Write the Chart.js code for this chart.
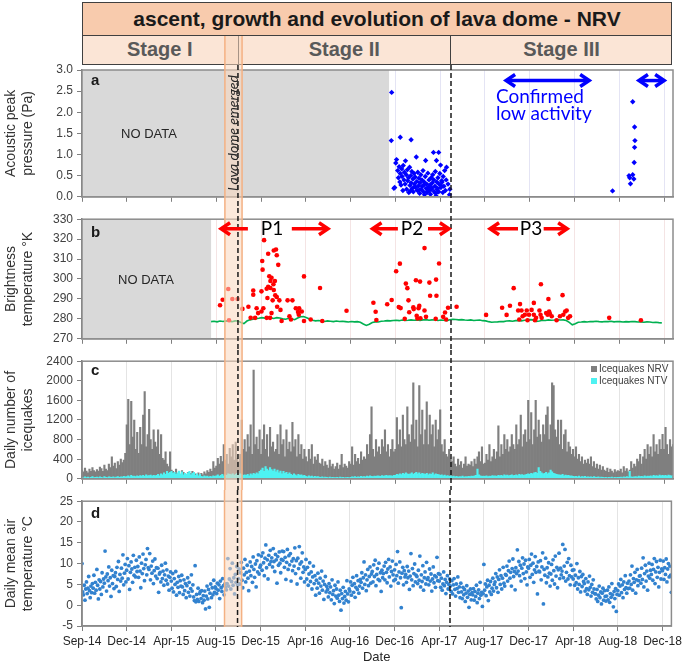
<!DOCTYPE html>
<html>
<head>
<meta charset="utf-8">
<script src="https://cdn.jsdelivr.net/npm/chart.js@4.4.1/dist/chart.umd.min.js"></script>
<style>
  body { margin:0; width:685px; height:662px; position:relative; overflow:hidden; background:#fff;
         font-family:"Liberation Sans", Arial, sans-serif; }
  #title { position:absolute; left:82px; top:2px; width:590px; height:34px; box-sizing:border-box;
           border:1.5px solid #404040; background:#f8cbad; font-weight:bold; font-size:21px;
           color:#1a1a1a; text-align:center; line-height:31px; }
  #stages { position:absolute; left:82px; top:35px; width:590px; height:30px; box-sizing:border-box;
            border:1.5px solid #404040; background:#fbe5d6; }
  .stage { position:absolute; top:35px; height:30px; box-sizing:border-box; font-weight:bold;
           font-size:20px; color:#595959; text-align:center; line-height:29px; }
  .panel { position:absolute; left:0; }
  .note { position:absolute; white-space:nowrap; }
  .nodata { font-size:13px; color:#262626; transform:translate(-50%,-50%); }
  .letter { font-weight:bold; font-size:15px; line-height:15px; color:#1a1a1a; }
  .plab { font-family:Lato, "Open Sans", sans-serif; font-size:19px; color:#000; transform:translate(-50%,-50%); }
  .sw { display:inline-block; width:6px; height:6px; margin-right:2px; vertical-align:0; }
</style>
</head>
<body>
<div id="title">ascent, growth and evolution of lava dome - NRV</div>
<div id="stages"></div>
<div class="stage" id="st0">Stage I</div>
<div class="stage" id="st1">Stage II</div>
<div class="stage" id="st2">Stage III</div>

<canvas class="panel" id="pa" width="685" height="172" style="top:36px"></canvas>
<canvas class="panel" id="pb" width="685" height="142" style="top:208px"></canvas>
<canvas class="panel" id="pc" width="685" height="140" style="top:350px"></canvas>
<canvas class="panel" id="pd" width="685" height="178" style="top:490px"></canvas>

<div class="note letter" style="left:91px;top:72px">a</div>
<div class="note letter" style="left:91px;top:224px">b</div>
<div class="note letter" style="left:91px;top:362px">c</div>
<div class="note letter" style="left:91px;top:505px">d</div>
<div class="note nodata" style="left:149px;top:133px">NO DATA</div>
<div class="note nodata" style="left:146px;top:279px">NO DATA</div>
<div class="note" style="left:232px;top:133px;transform:translate(-50%,-50%) rotate(-90deg);font-family:Lato,'Open Sans',sans-serif;font-style:italic;font-size:14px;color:#262626">Lava dome emerged</div>
<div class="note" style="left:496px;top:87px;font-family:Lato,'Open Sans',sans-serif;font-size:19px;line-height:17px;color:#0000ff">Confirmed<br>low activity</div>
<div class="note plab" style="left:272px;top:227px">P1</div>
<div class="note plab" style="left:412px;top:227px">P2</div>
<div class="note plab" style="left:531px;top:227px">P3</div>
<div class="note" style="left:591px;top:363px;font-size:10px;line-height:12px;color:#404040">
  <div><span class="sw" style="background:#7f7f7f"></span>Icequakes NRV</div>
  <div><span class="sw" style="background:#4ef2f2"></span>Icequakes NTV</div>
</div>

<script>
// x axis: days since 1 Sep 2014, Excel-style ticks every 120 days
const X_MIN = 0, X_MAX = 1584;
const xTickDays = [0, 120, 240, 360, 480, 600, 720, 840, 960, 1080, 1200, 1320, 1440, 1560];
const xTickLabels = ['Sep-14', 'Dec-14', 'Apr-15', 'Aug-15', 'Dec-15', 'Apr-16', 'Aug-16',
  'Dec-16', 'Apr-17', 'Aug-17', 'Dec-17', 'Apr-18', 'Aug-18', 'Dec-18'];
const stageDays = [418, 989];   // lava dome emerged / start of stage III (dashed lines)
const bandDays = [383, 429];    // orange band
const noDataA = 823, noDataB = 346;

// --- panel a : acoustic peak pressure (Pa)
const acousticDay = [830, 829, 853, 882, 956, 977, 981, 949,
  836, 838, 841, 843, 846, 848, 850, 852, 853, 855, 857, 858, 860, 861, 863, 864, 866, 867, 869, 870,
  872, 873, 875, 876, 878, 879, 881, 882, 884, 885, 887, 888, 890, 891, 893, 894, 896, 897, 899, 900,
  902, 903, 905, 906, 908, 909, 911, 912, 914, 915, 917, 918, 920, 921, 922, 924, 925, 927, 928, 930,
  931, 933, 934, 936, 937, 939, 940, 942, 943, 944, 946, 947, 948, 950, 951, 953, 954, 956, 957, 959,
  961, 962, 964, 965, 967, 968, 970, 972, 974, 976, 985, 986, 880, 892, 904, 916, 926, 938, 952, 963,
  1422, 1476, 1481, 1482, 1481, 1480, 1466, 1468, 1476, 1479, 1470];
const acousticPa = [2.47, 1.33, 1.41, 1.35, 1.05, 0.70, 0.30, 0.02,
  0.20, 0.22, 0.80, 0.88, 0.62, 0.45, 0.71, 0.35, 0.55, 0.28, 0.66, 0.48, 0.15, 0.74, 0.40, 0.58, 0.30, 0.85, 0.52, 0.18,
  0.64, 0.38, 0.45, 0.10, 0.70, 0.27, 0.50, 0.33, 0.60, 0.20, 0.42, 0.12, 0.55, 0.30, 0.47, 0.22, 0.94, 0.36, 0.15, 0.58,
  0.26, 0.44, 0.08, 0.33, 0.52, 0.18, 0.40, 0.25, 0.62, 0.12, 0.35, 0.05, 0.48, 0.86, 0.20, 0.30, 0.10, 0.56, 0.22, 0.40,
  0.15, 0.28, 0.06, 0.45, 0.18, 0.33, 0.52, 1.05, 0.40, 0.12, 0.25, 0.60, 0.08, 0.86, 0.35, 0.20, 0.45, 0.12, 0.30, 0.55,
  0.75, 0.22, 0.38, 0.35, 0.10, 0.48, 0.25, 0.62, 0.15, 0.40, 0.05, 0.18, 0.14, 0.24, 0.16, 0.28, 0.13, 0.21, 0.17, 0.26,
  0.14, 2.25, 1.65, 1.33, 1.17, 0.81, 0.50, 0.45, 0.52, 0.42, 0.31];

// --- panel b : brightness temperature (K)
const brightDay = [370, 377, 392, 394, 403, 417, 430, 446, 452, 459, 459, 464, 468, 472, 481, 481, 486, 483, 484, 488,
  495, 499, 497, 499, 502, 505, 505, 508, 504, 508, 514, 520, 522, 517, 514, 518, 522, 526, 529, 532,
  535, 513, 511, 523, 495, 551, 564, 556, 560, 573, 579, 581, 582, 589, 595, 595, 613, 638, 644, 709,
  781, 787, 789, 818, 830, 842, 849, 854, 852, 865, 868, 872, 875, 877, 888, 895, 889, 897, 902, 904,
  899, 906, 907, 918, 918, 922, 931, 933, 949, 950, 957, 948, 968, 973, 976, 981, 1004,
  1083, 1126, 1138, 1147, 1157, 1169, 1174, 1178, 1172, 1181, 1187, 1192, 1194, 1198, 1205, 1211, 1211, 1214, 1217,
  1226, 1230, 1229, 1232, 1244, 1250, 1248, 1252, 1254, 1259, 1272, 1281, 1288, 1290, 1295, 1299, 1303, 1308, 1413, 1498];
const brightK = [286.8, 289.6, 295.0, 279.3, 290.0, 290.0, 285.0, 286.1, 280.5, 294.2, 292.1, 280.5, 285.3, 282.9, 283.7, 293.8, 285.3, 309.0, 304.7, 319.5,
  295.1, 296.1, 290.5, 312.7, 301.4, 299.0, 295.5, 282.9, 280.5, 300.6, 314.3, 314.8, 311.9, 299.0, 294.5, 291.8, 291.0, 307.1, 289.3, 284.5,
  278.9, 297.4, 289.3, 286.1, 280.5, 289.3, 289.3, 281.3, 279.7, 285.3, 283.5, 282.1, 285.3, 283.7, 301.3, 278.9, 279.7, 295.5, 278.9, 284.1,
  288.1, 283.6, 279.4, 287.3, 289.5, 303.9, 285.9, 285.4, 307.7, 280.0, 297.7, 295.4, 289.3, 283.3, 285.8, 299.4, 284.9, 281.6, 285.3, 286.5,
  280.2, 298.7, 280.3, 315.5, 284.2, 281.0, 298.2, 291.6, 299.7, 291.6, 307.8, 280.0, 281.0, 283.2, 279.7, 285.6, 286.1,
  282.0, 285.6, 282.0, 286.6, 295.4, 284.2, 287.4, 284.2, 279.7, 281.3, 282.1, 284.2, 279.3, 282.1, 284.5, 288.0, 282.1, 279.3, 280.5,
  284.2, 297.4, 282.1, 280.5, 282.9, 290.0, 282.1, 283.7, 282.6, 281.3, 279.3, 281.3, 291.9, 282.1, 283.7, 284.2, 280.5, 281.3, 280.5, 279.3];
const greenStart = 346, greenStep = 8;
const greenK = [278.6, 278.8, 278.5, 278.9, 278.7, 279.0, 278.8, 278.6, 279.0, 278.9, 278.2, 277.6, 278.9, 279.5, 279.8, 280.1,
  280.3, 280.6, 280.4, 280.7, 280.5, 280.2, 280.6, 280.4, 280.0, 279.8, 280.3, 280.0, 279.6, 280.4, 281.1, 281.2,
  280.6, 279.9, 279.3, 279.0, 279.2, 278.9, 278.7, 279.0, 278.8, 278.6, 278.9, 278.7, 278.8, 278.6, 278.4, 278.7,
  278.5, 278.6, 278.3, 277.4, 276.7, 277.3, 278.2, 278.5, 278.4, 278.8, 278.9, 279.1, 279.0, 279.2, 279.3, 279.1,
  279.4, 279.2, 279.3, 279.5, 279.3, 279.4, 279.2, 279.5, 279.6, 279.3, 279.5, 279.4, 279.2, 279.4, 279.3, 279.1,
  279.6, 279.8, 279.7, 279.5, 279.6, 279.4, 279.3, 279.5, 279.2, 279.3, 279.4, 279.1, 279.0, 278.6, 278.3, 278.4,
  278.5, 278.7, 278.6, 278.9, 279.0, 278.8, 279.1, 279.2, 279.0, 279.3, 279.4, 279.6, 279.5, 278.7, 278.9, 279.3,
  279.2, 279.5, 279.3, 279.4, 279.6, 279.4, 279.5, 279.2, 278.2, 277.0, 277.6, 278.3, 278.4, 278.6, 278.4, 278.7,
  278.6, 278.8, 278.6, 278.5, 278.7, 278.6, 278.8, 278.5, 278.7, 278.6, 278.4, 278.6, 278.5, 278.7, 278.6, 278.4,
  278.5, 278.3, 278.5, 278.4, 278.2, 278.3, 278.1, 278.0];

// --- panel c : daily icequakes, one value every 4 days
const iceStep = 4;
const iceNRV = [
  180, 140, 220, 160, 120, 200, 150, 230, 170, 140,  190, 160, 240, 210, 150, 280, 200, 170, 300, 230,
  450, 260, 320, 210, 350, 280, 400, 330, 380, 520,  1100, 1620, 700, 1580, 850, 1200, 600, 950, 520, 1050,
  700, 1300, 1780, 650, 900, 1420, 800, 600, 1000, 750,  650, 1000, 500, 900, 420, 380, 550, 300, 250, 550,
  180, 150, 120, 200, 100, 140, 90, 170, 130, 110,  90, 130, 70, 110, 150, 80, 100, 60, 120, 90,
  110, 80, 140, 100, 170, 130, 200, 150, 350, 220,  260, 420, 300, 460, 350, 700, 380, 500, 300, 620,
  450, 700, 380, 750, 420, 350, 500, 1200, 600, 800,  550, 900, 650, 1100, 500, 2220, 700, 850, 600, 1000,
  500, 800, 1100, 600, 900, 450, 1050, 650, 750, 550,  600, 900, 500, 1100, 700, 800, 450, 1000, 600, 750,
  550, 1150, 650, 800, 450, 900, 500, 700, 400, 600,  450, 350, 600, 400, 700, 300, 450, 380, 500, 320,
  300, 400, 260, 350, 280, 220, 380, 250, 300, 200,  250, 320, 200, 280, 500, 230, 300, 260, 220, 350,
  300, 650, 280, 500, 350, 420, 300, 550, 380, 450,  400, 700, 500, 900, 1470, 600, 450, 800, 550, 650,
  500, 800, 650, 1000, 550, 700, 450, 600, 800, 550,  600, 1250, 700, 1000, 650, 1300, 800, 700, 1470, 900,
  750, 1100, 1960, 800, 1200, 650, 1900, 900, 1400, 700,  1000, 1570, 700, 1300, 900, 1100, 650, 1200, 800, 1000,
  1410, 700, 550, 800, 500, 450, 600, 400, 350, 450,  300, 250, 400, 280, 350, 220, 300, 450, 260, 300,
  280, 350, 250, 400, 300, 450, 550, 350, 650, 300,  320, 500, 380, 700, 350, 450, 600, 400, 550, 1080,
  450, 700, 500, 900, 600, 800, 550, 650, 900, 700,  600, 1100, 700, 800, 1300, 650, 900, 1000, 750, 1600,
  800, 1350, 700, 1000, 1600, 850, 1200, 900, 750, 1100,  900, 1300, 1470, 800, 1100, 1960, 1900, 1000, 850, 1200,
  700, 1200, 600, 900, 1000, 550, 750, 650, 500, 600,  450, 650, 400, 500, 350, 450, 300, 380, 320, 400,
  300, 450, 250, 350, 220, 300, 200, 280, 180, 250,  180, 150, 220, 130, 200, 160, 120, 190, 140, 170,
  150, 200, 120, 250, 160, 210, 140, 180, 350, 220,  300, 250, 400, 350, 500, 300, 450, 600, 400, 700,
  500, 650, 450, 900, 550, 700, 500, 800, 600, 910,  600, 1050, 700, 500, 800, 650, 700, 550, 600, 500];
const iceNTV = [
  30, 20, 40, 25, 35, 20, 30, 45, 25, 30,  35, 25, 40, 30, 20, 45, 30, 25, 40, 35,
  30, 40, 25, 35, 45, 30, 40, 35, 50, 40,  45, 60, 40, 70, 50, 55, 45, 60, 50, 65,
  55, 70, 50, 80, 60, 65, 75, 55, 70, 60,  70, 90, 60, 100, 80, 120, 90, 150, 110, 130,
  150, 110, 130, 90, 120, 160, 100, 140, 80, 110,  90, 120, 150, 80, 110, 130, 70, 100, 60, 90,
  50, 40, 60, 45, 55, 35, 50, 40, 60, 50,  60, 80, 50, 70, 90, 60, 80, 70, 100, 90,
  80, 100, 70, 90, 110, 80, 100, 90, 70, 80,  70, 90, 60, 100, 80, 110, 90, 120, 100, 150,
  180, 220, 150, 250, 200, 170, 230, 190, 160, 200,  140, 180, 120, 160, 100, 150, 110, 130, 90, 120,
  90, 70, 100, 80, 60, 90, 70, 80, 60, 70,  50, 40, 60, 45, 55, 35, 50, 40, 45, 35,
  30, 40, 25, 35, 30, 20, 35, 25, 30, 25,  25, 30, 20, 35, 25, 30, 20, 25, 30, 20,
  30, 40, 35, 45, 30, 40, 35, 50, 40, 45,  40, 55, 45, 60, 50, 45, 55, 50, 60, 55,
  50, 65, 55, 60, 70, 55, 65, 60, 55, 70,  70, 90, 80, 100, 85, 110, 95, 120, 100, 90,
  100, 120, 90, 110, 130, 100, 120, 90, 110, 100,  90, 110, 80, 100, 90, 120, 80, 100, 90, 85,
  70, 80, 60, 75, 55, 65, 50, 60, 45, 55,  40, 50, 35, 45, 40, 55, 35, 45, 40, 50,
  45, 55, 50, 60, 70, 200, 80, 60, 50, 55,  50, 60, 45, 55, 50, 65, 55, 60, 50, 70,
  60, 70, 55, 80, 65, 75, 60, 70, 80, 65,  70, 80, 65, 90, 75, 85, 70, 80, 90, 100,
  90, 110, 100, 120, 130, 110, 230, 150, 120, 100,  110, 130, 100, 120, 180, 140, 110, 100, 90, 80,
  80, 70, 90, 60, 75, 65, 70, 55, 60, 50,  45, 50, 40, 55, 35, 45, 40, 50, 35, 40,
  35, 40, 30, 45, 35, 30, 40, 25, 35, 30,  25, 30, 20, 30, 25, 35, 20, 30, 25, 30,
  30, 35, 25, 40, 30, 45, 35, 150, 40, 35,  40, 45, 35, 55, 45, 50, 40, 60, 45, 55,
  50, 60, 45, 70, 55, 65, 50, 75, 60, 70,  60, 70, 55, 75, 65, 60, 70, 55, 65, 60];

// --- panel d : daily mean air temperature (°C), one value every 2 days
const airStep = 2;
const airTemp = [
  10.0, 3.2, 2.5, 4.8, 1.2, 3.9, 5.6, 2.8, 4.1, 6.9, 3.5, 1.8, 4.6, 3.0, 5.2,
  4.1, 7.2, 2.9, 5.5, 3.6, 8.6, 4.8, 1.5, 6.1, 3.9, 5.7, 2.6, 7.8, 4.4, 6.3,
  5.3, 13.0, 6.8, 3.4, 7.5, 5.9, 9.2, 4.6, 6.6, 2.1, 8.4, 5.2, 7.1, 4.0, 6.9,
  7.8, 4.5, 9.1, 6.2, 10.5, 3.3, 7.4, 5.8, 8.9, 6.5, 12.1, 4.9, 7.7, 9.8, 5.6,
  8.4, 11.2, 6.3, 9.5, 3.8, 7.9, 10.4, 8.7, 5.5, 12.0, 7.2, 9.1, 6.8, 10.8, 8.1,
  9.3, 6.7, 11.6, 8.2, 4.2, 10.1, 7.6, 12.3, 8.8, 5.9, 9.7, 11.0, 7.3, 13.6, 9.0,
  8.6, 12.4, 6.1, 9.4, 7.7, 10.6, 5.2, 8.3, 11.1, 7.0, 9.0, 6.4, 8.9, 3.1, 7.5,
  7.9, 5.6, 9.6, 6.4, 8.2, 4.8, 7.3, 10.1, 6.0, 8.5, 5.1, 7.0, 3.6, 6.7, 8.0,
  5.8, 4.1, 7.6, 3.2, 6.4, 5.0, 8.1, 2.4, 5.5, 4.3, 6.9, 3.0, 5.9, 4.6, 7.2,
  4.4, 2.6, 6.1, 3.5, 5.2, 1.8, 4.7, 6.6, 3.1, 5.5, 2.2, 4.0, 7.3, 3.4, 4.9,
  2.0, 1.1, 9.5, 0.8, 2.6, 1.4, 4.1, 0.9, 2.8, 3.3, 1.6, 3.5, 0.6, 2.3, 1.2,
  3.4, -0.9, 2.2, 4.6, 1.5, 3.8, -0.5, 2.9, 5.1, 1.8, 4.2, 2.5, 6.0, 3.1, 4.4,
  4.0, 2.8, 5.3, 3.6, 4.9, 1.6, 5.8, 4.2, 3.3, 6.4, 4.7, 2.5, 5.1, 4.4, 3.7,
  5.2, 11.2, 4.6, 6.3, 8.8, 3.9, 5.7, 10.1, 4.8, 6.6, 2.7, 7.4, 5.5, 9.3, 4.9,
  6.4, 8.7, 5.1, 7.8, 10.3, 6.0, 4.2, 8.9, 7.3, 11.0, 5.6, 7.9, 9.6, 6.5, 3.5,
  8.2, 10.4, 7.1, 9.3, 5.5, 11.6, 8.6, 6.7, 9.9, 4.4, 10.7, 8.0, 12.1, 7.5, 9.1,
  9.6, 11.8, 8.4, 12.6, 10.2, 7.1, 11.3, 14.5, 9.0, 10.9, 6.3, 12.0, 9.8, 13.2, 10.5,
  11.4, 9.2, 13.6, 10.5, 8.1, 12.2, 10.9, 5.3, 11.7, 9.6, 12.8, 10.1, 7.8, 11.0, 13.0,
  10.8, 12.9, 9.1, 11.5, 6.2, 10.3, 13.4, 8.6, 11.9, 9.7, 12.4, 5.8, 10.6, 8.3, 11.2,
  9.4, 13.8, 7.6, 10.7, 5.1, 11.3, 8.8, 14.1, 9.9, 6.5, 10.4, 12.6, 7.9, 9.2, 5.6,
  8.6, 11.0, 6.3, 9.1, 4.8, 7.5, 10.2, 5.7, 8.0, 3.9, 6.8, 9.4, 5.2, 7.1, 2.4,
  6.0, 4.1, 7.7, 5.3, 2.9, 6.5, 4.6, 8.2, 3.6, 5.8, 1.4, 5.0, 6.9, 3.2, 4.5,
  3.8, 2.0, 5.2, 3.0, 4.4, 1.3, 6.1, 2.6, 3.5, 0.4, 4.8, 2.2, 3.9, 1.7, 5.6,
  2.4, 0.9, 3.6, -1.2, 2.8, 1.6, 4.3, 0.5, 2.1, 3.3, 1.2, 5.9, 2.7, 0.8, 3.9,
  3.4, 5.6, 2.4, 4.8, 6.7, 3.1, 5.2, 1.9, 4.3, 7.1, 3.8, 5.9, 2.9, 4.6, 6.2,
  5.5, 7.8, 4.1, 6.6, 10.4, 5.0, 7.3, 3.5, 6.1, 8.6, 4.7, 6.9, 9.2, 5.3, 7.5,
  8.1, 5.6, 9.7, 6.9, 10.8, 4.7, 7.4, 8.8, 6.2, 10.1, 5.9, 7.8, 3.3, 8.4, 6.6,
  7.6, 9.4, 6.1, 10.3, 7.9, 5.4, 8.7, 11.0, 6.8, 9.2, 4.6, 8.1, 10.6, 7.3, 5.9,
  8.5, 6.2, 9.8, 7.1, 12.9, 5.3, 8.0, 10.4, 6.6, -0.6, 7.7, 9.1, 4.9, 8.3, 6.8,
  7.4, 5.5, 9.3, 6.6, 8.2, 3.8, 7.0, 12.4, 6.1, 8.8, 4.7, 7.6, 9.9, 5.6, 7.2,
  6.9, 5.2, 8.4, 6.0, 11.8, 4.4, 7.3, 5.7, 9.5, 3.6, 6.6, 8.0, 5.1, 10.3, 6.2,
  6.6, 4.9, 8.7, 5.8, 7.5, 3.4, 6.3, 9.2, 5.4, 7.1, 4.3, 6.8, 11.5, 5.9, 7.6,
  5.8, 7.4, 4.3, 6.5, 3.6, 5.1, 8.0, 4.7, 6.2, 2.8, 5.5, 7.1, 3.9, 5.0, 6.3,
  4.6, 3.3, 5.9, 2.7, 4.9, 6.4, 3.8, 2.2, 5.1, 4.0, 6.8, 3.1, 4.4, 1.8, 5.3,
  3.2, 1.6, 4.3, 2.5, 3.8, 0.9, 2.9, 4.7, 1.9, 3.4, -0.5, 2.6, 3.9, 1.3, 3.0,
  2.5, 4.0, 1.2, 3.3, 2.1, 4.8, 0.6, 2.9, 3.7, 1.6, 5.5, 2.4, 3.1, -0.3, 2.8,
  9.8, 3.6, 5.1, 2.3, 4.4, 6.0, 1.1, 4.8, 3.2, 5.7, 2.6, 4.1, 6.5, 3.4, 5.0,
  5.6, 7.6, 4.2, 6.8, 3.1, 6.2, 8.5, 5.0, 7.1, 3.9, 6.5, 9.1, 5.3, 4.6, 7.4,
  7.2, 9.4, 5.8, 8.3, 10.6, 6.5, 7.9, 4.6, 8.8, 11.1, 6.9, 8.1, 3.7, 9.0, 7.6,
  13.3, 8.2, 10.5, 7.1, 9.6, 5.8, 8.9, 11.4, 7.6, 9.9, 6.4, 10.8, 8.0, 4.9, 9.2,
  8.9, 11.0, 6.7, 9.6, 12.3, 7.4, 10.1, 5.5, 8.5, 11.7, 7.9, 9.3, 2.7, 10.4, 8.2,
  8.0, 10.7, 6.1, 9.2, 12.6, 0.3, 8.6, 7.2, 11.3, 5.4, 9.0, 6.8, 10.2, 7.7, 4.6,
  7.5, 9.8, 6.0, 10.9, 8.3, 5.1, 11.8, 7.0, 9.1, 4.2, 8.5, 12.5, 6.4, 8.9, 7.3,
  8.2, 14.6, 6.6, 9.4, 13.4, 5.8, 7.9, 10.3, 6.3, 11.2, 7.1, 4.9, 9.6, 6.8, 8.4,
  6.3, 8.5, 4.8, 7.2, 5.4, 10.0, 3.9, 6.6, 5.0, 8.1, 3.2, 6.9, 4.5, 7.4, 5.7,
  5.2, 3.4, 6.4, 4.0, 2.6, 5.6, 3.7, 7.0, 4.3, 2.2, 5.0, 3.1, 6.1, 3.9, 2.8,
  2.7, 1.5, 3.8, 0.9, 2.4, 4.6, 1.8, 3.2, 0.3, 2.9, 4.1, 1.2, 3.5, 2.1, 1.0,
  2.2, 3.6, 1.3, 4.4, 0.7, 2.8, 1.9, 5.2, 2.5, -0.4, 3.3, 1.6, 4.0, -1.5, 2.6,
  3.5, 5.1, 2.4, 4.6, 6.2, 3.0, 4.9, 1.8, 5.6, 3.8, 7.1, 4.2, 2.9, 5.3, 4.0,
  5.8, 4.1, 7.3, 5.0, 9.4, 3.6, 6.4, 5.5, 7.9, 2.9, 6.1, 8.6, 4.7, 5.9, 7.0,
  7.1, 5.3, 8.9, 6.2, 11.4, 4.4, 7.6, 9.6, 5.8, 8.2, 3.6, 7.0, 10.1, 6.5, 8.4,
  7.4, 9.8, 6.0, 8.6, 11.2, 5.2, 8.0, 10.5, 6.7, 9.1, 4.4, 7.9, 10.8, 6.3, 8.7,
  8.3, 10.6, 6.2, 9.0, 7.4, 11.1, 5.6, 8.7, 10.0, 6.8, 9.4, 7.2, 3.1, 8.0, 9.5];

const FONT = '"Liberation Sans", Arial, sans-serif';
Chart.defaults.font.family = FONT;
Chart.defaults.animation = false;

// grey no-data box, orange band, dashed stage lines, arrows, frame
const panelDecor = {
  id: 'panelDecor',
  beforeDatasetsDraw(chart, args, o) {
    if (o.noDataTo == null) return;
    const { ctx, chartArea: a, scales: { x } } = chart;
    ctx.save();
    ctx.fillStyle = '#d9d9d9';
    ctx.fillRect(a.left, a.top, x.getPixelForValue(o.noDataTo) - a.left, a.bottom - a.top);
    ctx.restore();
  },
  afterDatasetsDraw(chart, args, o) {
    const { ctx, chartArea: a, scales: { x, y } } = chart;
    ctx.save();
    ctx.strokeStyle = '#8c8c8c';
    ctx.lineWidth = 1.5;
    ctx.strokeRect(a.left, a.top, a.right - a.left, a.bottom - a.top);

    const bottom = o.toArea ? a.bottom + 1 : chart.height;
    const b1 = x.getPixelForValue(bandDays[0]), b2 = x.getPixelForValue(bandDays[1]);
    ctx.fillStyle = 'rgba(250,215,190,0.55)';
    ctx.fillRect(b1, 0, b2 - b1, bottom);
    ctx.strokeStyle = '#f4b183';
    ctx.lineWidth = 1.5;
    [b1, b2].forEach(px => { ctx.beginPath(); ctx.moveTo(px, 0); ctx.lineTo(px, bottom); ctx.stroke(); });

    ctx.strokeStyle = '#1a1a1a';
    ctx.setLineDash([5, 3]);
    stageDays.forEach(d => {
      const px = x.getPixelForValue(d);
      ctx.beginPath(); ctx.moveTo(px, o.dashTop || 0); ctx.lineTo(px, bottom); ctx.stroke();
    });
    ctx.setLineDash([]);

    (o.arrows || []).forEach(ar => {
      const x1 = x.getPixelForValue(ar.from), x2 = x.getPixelForValue(ar.to), py = y.getPixelForValue(ar.val);
      ctx.strokeStyle = ar.color;
      ctx.lineWidth = 3.5;
      ctx.lineJoin = 'miter';
      ctx.beginPath(); ctx.moveTo(x1 + 2, py); ctx.lineTo(x2 - 2, py); ctx.stroke();
      const head = (px, dir) => {
        ctx.beginPath();
        ctx.moveTo(px - dir * 9, py - 6); ctx.lineTo(px, py); ctx.lineTo(px - dir * 9, py + 6);
        ctx.stroke();
      };
      if (ar.heads !== 'end') head(x1 + 1, -1);
      if (ar.heads !== 'start') head(x2 - 1, 1);
    });
    ctx.restore();
  }
};

function xAxis(gridColor, height, labels) {
  return {
    type: 'linear', min: X_MIN, max: X_MAX, offset: false,
    afterBuildTicks: s => { s.ticks = xTickDays.map(v => ({ value: v })); },
    afterFit: s => { s.height = height; },
    grid: { color: gridColor, tickColor: '#7f7f7f', tickLength: 5, offset: false },
    border: { color: '#7f7f7f', width: 1.5 },
    ticks: {
      display: labels, autoSkip: false, maxRotation: 0, minRotation: 0, padding: 3,
      color: '#262626', font: { size: 12 },
      callback: v => xTickLabels[xTickDays.indexOf(v)]
    },
    title: labels ? { display: true, text: 'Date', color: '#262626', font: { size: 13 }, padding: { top: 0, bottom: 3 } }
                  : { display: false }
  };
}

function yAxis(min, max, step, title, fmt) {
  return {
    min, max,
    afterFit: s => { s.width = 82; },
    grid: { drawOnChartArea: false, tickLength: 5, color: '#7f7f7f' },
    border: { color: '#7f7f7f', width: 1.5 },
    ticks: { stepSize: step, color: '#404040', font: { size: 12 }, padding: 4, callback: fmt },
    title: { display: true, text: title, color: '#333', font: { size: 14 }, padding: { top: 3, bottom: 0 } }
  };
}

function baseOptions(padTop, decor) {
  return {
    responsive: false, devicePixelRatio: 1,
    layout: { padding: { top: padTop, right: 12, bottom: 0, left: 0 } },
    plugins: { legend: { display: false }, tooltip: { enabled: false }, panelDecor: decor },
    events: []
  };
}

const pts = (xs, ys) => ys.map((v, i) => ({ x: xs[i], y: v }));
const stepped = (start, step, ys) => ys.map((v, i) => ({ x: start + i * step, y: v }));

// panel a
const optA = baseOptions(34, {
  noDataTo: noDataA, dashTop: 29,
  arrows: [{ from: 1134, to: 1362, val: 2.75, color: '#0000ff', heads: 'both' },
           { from: 1490, to: 1563, val: 2.75, color: '#0000ff', heads: 'both' }]
});
optA.scales = { x: xAxis('#e4e4f4', 11, false), y: yAxis(0, 3, 0.5, ['Acoustic peak', 'pressure (Pa)'], v => v.toFixed(1)) };
const chartA = new Chart(document.getElementById('pa'), {
  type: 'scatter',
  data: { datasets: [{ data: pts(acousticDay, acousticPa), backgroundColor: '#0000ff', borderWidth: 0,
                       pointStyle: 'rectRot', pointRadius: 2.7 }] },
  options: optA, plugins: [panelDecor]
});

// panel b
const optB = baseOptions(8, {
  noDataTo: noDataB,
  arrows: [{ from: 370, to: 450, val: 325.2, color: '#ff0000', heads: 'start' },
           { from: 557, to: 662, val: 325.2, color: '#ff0000', heads: 'end' },
           { from: 776, to: 852, val: 325.2, color: '#ff0000', heads: 'start' },
           { from: 922, to: 986, val: 325.2, color: '#ff0000', heads: 'end' },
           { from: 1091, to: 1174, val: 325.2, color: '#ff0000', heads: 'start' },
           { from: 1232, to: 1303, val: 325.2, color: '#ff0000', heads: 'end' }]
});
optB.scales = { x: xAxis('#f4e4e4', 10, false), y: yAxis(270, 330, 10, ['Brightness', 'temperature °K'], v => v) };
const chartB = new Chart(document.getElementById('pb'), {
  type: 'scatter',
  data: { datasets: [
    { data: pts(brightDay, brightK), backgroundColor: '#ff0000', borderWidth: 0, pointRadius: 2.3 },
    { type: 'line', data: stepped(greenStart, greenStep, greenK), borderColor: '#00b050', borderWidth: 1.6,
      pointRadius: 0, showLine: true, fill: false, tension: 0 }
  ] },
  options: optB, plugins: [panelDecor]
});

// panel c
const optC = baseOptions(11, {});
optC.scales = { x: xAxis('#e4e4e4', 7, false), y: yAxis(0, 2400, 400, ['Daily number of', 'icequakes'], v => v) };
optC.datasets = { bar: { grouped: false, barPercentage: 1, categoryPercentage: 1 } };
const chartC = new Chart(document.getElementById('pc'), {
  type: 'bar',
  data: { datasets: [
    { label: 'Icequakes NRV', data: stepped(0, iceStep, iceNRV), backgroundColor: '#7f7f7f', borderWidth: 0, order: 2 },
    { label: 'Icequakes NTV', data: stepped(0, iceStep, iceNTV), backgroundColor: '#4ef2f2', borderWidth: 0, order: 1 }
  ] },
  options: optC, plugins: [panelDecor]
});

// panel d
const optD = baseOptions(11, { toArea: true });
optD.scales = { x: xAxis('#e4e4e4', 42, true), y: yAxis(-5, 25, 5, ['Daily mean air', 'temperature °C'], v => v) };
const chartD = new Chart(document.getElementById('pd'), {
  type: 'scatter',
  data: { datasets: [{ data: stepped(0, airStep, airTemp), backgroundColor: '#3282cf', borderWidth: 0, pointRadius: 1.9 }] },
  options: optD, plugins: [panelDecor]
});

// header stage cells follow the x scale
const xs = chartD.scales.x;
const edges = [X_MIN, ...stageDays, X_MAX].map(d => xs.getPixelForValue(d));
edges[3] = 672;
['st0', 'st1', 'st2'].forEach((id, i) => {
  const el = document.getElementById(id);
  el.style.left = edges[i] + 'px';
  el.style.width = (edges[i + 1] - edges[i]) + 'px';
  if (i > 0) el.style.borderLeft = '1.5px solid #404040';
});
</script>
</body>
</html>
